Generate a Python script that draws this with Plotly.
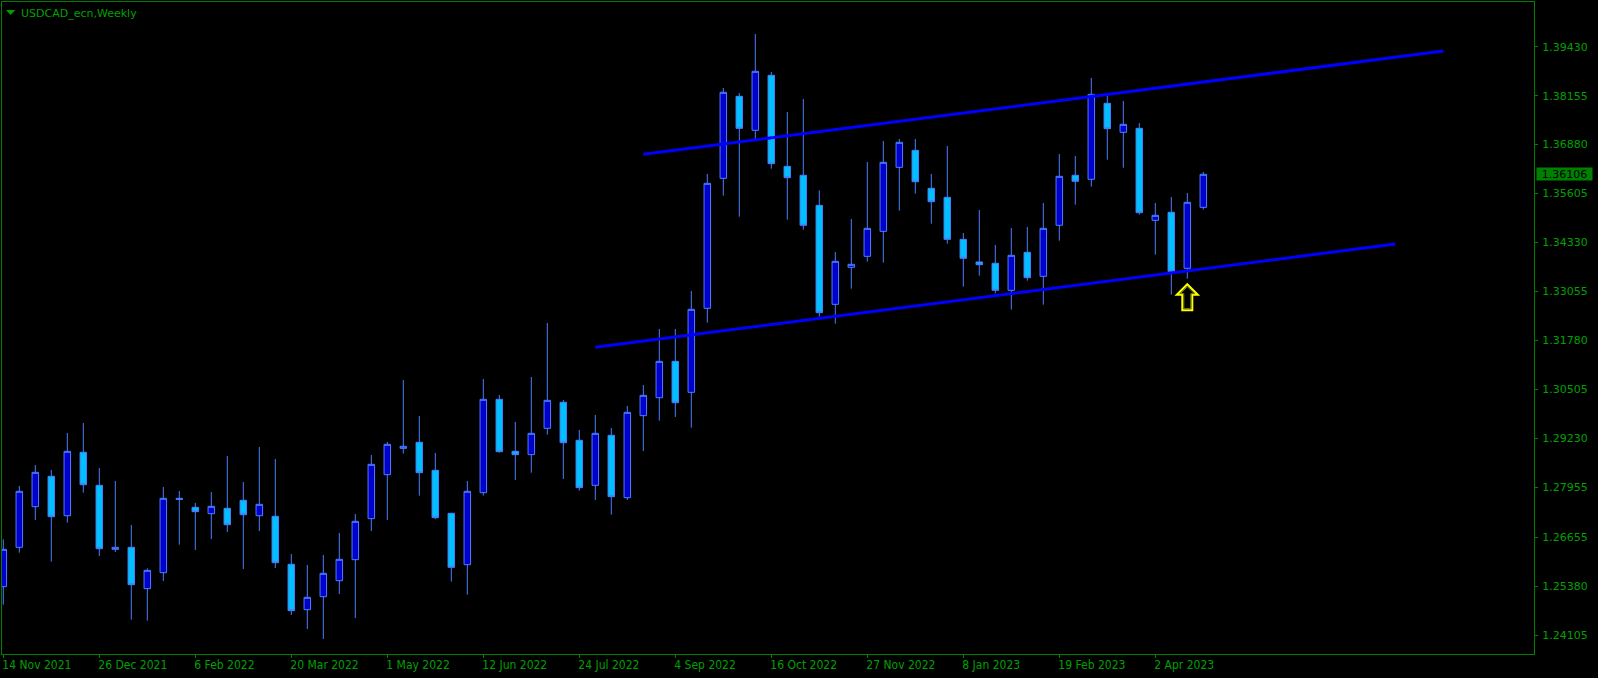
import plotly.graph_objects as go

# ---------------- data ----------------
BAR = list(range(76))  # weekly bars, bar 0 = 14 Nov 2021

OPEN = [1.25367, 1.26391, 1.27450, 1.28240, 1.27216, 1.28865, 1.28006, 1.26339, 1.26391, 1.25315,
        1.25731, 1.27667, 1.27433, 1.27268, 1.27407, 1.27615, 1.27216, 1.27198, 1.25948, 1.24768,
        1.25106, 1.25523, 1.26070, 1.27138, 1.28284, 1.28969, 1.29126, 1.28397, 1.27277, 1.25940,
        1.27815, 1.30246, 1.28891, 1.28805, 1.29490, 1.30168, 1.29178, 1.28006, 1.29308, 1.27685,
        1.29820, 1.30289, 1.31235, 1.30428, 1.32616, 1.36002, 1.38137, 1.37252, 1.38684, 1.36314,
        1.36080, 1.35298, 1.32720, 1.33684, 1.33970, 1.34621, 1.36288, 1.36731, 1.35741, 1.35507,
        1.34413, 1.33823, 1.33788, 1.33085, 1.34074, 1.33449, 1.34778, 1.36080, 1.35976, 1.37955,
        1.37200, 1.37304, 1.34908, 1.35116, 1.33658, 1.35246]
HIGH = [1.26599, 1.27988, 1.28535, 1.28405, 1.29369, 1.29629, 1.28457, 1.28119, 1.26973, 1.25844,
        1.27962, 1.27858, 1.27546, 1.27832, 1.28770, 1.28093, 1.29004, 1.28692, 1.26217, 1.25931,
        1.26191, 1.26764, 1.27259, 1.28796, 1.29134, 1.30749, 1.29812, 1.28848, 1.27290, 1.28119,
        1.30775, 1.30359, 1.29655, 1.30827, 1.32234, 1.30228, 1.29447, 1.29838, 1.29499, 1.30072,
        1.30619, 1.32078, 1.32078, 1.33067, 1.36115, 1.38354, 1.38224, 1.39761, 1.38771, 1.37729,
        1.38068, 1.35689, 1.34083, 1.34942, 1.36427, 1.36974, 1.37026, 1.37026, 1.36115, 1.36844,
        1.34578, 1.35177, 1.34265, 1.34708, 1.34734, 1.35359, 1.36635, 1.36583, 1.38615, 1.38146,
        1.38016, 1.37443, 1.35359, 1.35515, 1.35620, 1.36167]
LOW = [1.24898, 1.26252, 1.27103, 1.26018, 1.27033, 1.27815, 1.26165, 1.26270, 1.24507, 1.24481,
       1.25514, 1.26460, 1.26322, 1.26608, 1.26790, 1.25827, 1.26816, 1.25853, 1.24629, 1.24264,
       1.24004, 1.25176, 1.24551, 1.26816, 1.27103, 1.28831, 1.27737, 1.27129, 1.25497, 1.25158,
       1.27737, 1.28857, 1.28145, 1.28336, 1.29325, 1.28171, 1.27867, 1.27624, 1.27242, 1.27624,
       1.28900, 1.29690, 1.29786, 1.29508, 1.32242, 1.35550, 1.35003, 1.37026, 1.36253, 1.34925,
       1.34665, 1.32399, 1.32216, 1.33128, 1.33831, 1.33805, 1.35160, 1.35602, 1.34821, 1.34300,
       1.33180, 1.33467, 1.33006, 1.32581, 1.33336, 1.32711, 1.34378, 1.35316, 1.35785, 1.36488,
       1.36279, 1.35055, 1.34014, 1.32972, 1.33388, 1.35186]
CLOSE = [1.26339, 1.27850, 1.28344, 1.27190, 1.28891, 1.28023, 1.26356, 1.26391, 1.25419, 1.25792,
         1.27667, 1.27641, 1.27320, 1.27459, 1.26981, 1.27242, 1.27511, 1.25992, 1.24742, 1.25089,
         1.25714, 1.26079, 1.27068, 1.28553, 1.29074, 1.29022, 1.28336, 1.27164, 1.25870, 1.27850,
         1.30246, 1.28883, 1.28805, 1.29360, 1.30220, 1.29117, 1.27945, 1.29360, 1.27711, 1.29907,
         1.30350, 1.31235, 1.30159, 1.32590, 1.35871, 1.38242, 1.37304, 1.38788, 1.36384, 1.36019,
         1.34778, 1.32503, 1.33840, 1.33762, 1.34699, 1.36418, 1.36939, 1.35915, 1.35394, 1.34413,
         1.33918, 1.33753, 1.33085, 1.33996, 1.33415, 1.34699, 1.36054, 1.35924, 1.38189, 1.37295,
         1.37408, 1.35107, 1.35038, 1.33579, 1.35377, 1.36106]

DATE_TICK_POS = [0, 6, 12, 18, 24, 30, 36, 42, 48, 54, 60, 66, 72]
DATE_TICK_TEXT = ["14 Nov 2021", "26 Dec 2021", "6 Feb 2022", "20 Mar 2022", "1 May 2022",
                  "12 Jun 2022", "24 Jul 2022", "4 Sep 2022", "16 Oct 2022", "27 Nov 2022",
                  "8 Jan 2023", "19 Feb 2023", "2 Apr 2023"]
PRICE_TICKS = [1.39430, 1.38155, 1.36880, 1.35605, 1.34330, 1.33055, 1.31780,
               1.30505, 1.29230, 1.27955, 1.26655, 1.25380, 1.24105]

UPPER_X = [40, 90]
UPPER_Y = [1.36628, 1.39318]
LOWER_X = [37, 87]
LOWER_Y = [1.31601, 1.34291]

ARROW_BAR = 74
LAST_PRICE = 1.36106
TITLE = "USDCAD_ecn,Weekly"

# ---------------- style ----------------
W, H = 1598, 678
ML, MR, MT, MB = 2, 64, 2, 24
X_RANGE = [-0.08125, 95.66875]
Y_RANGE = [1.236128, 1.405942]
GREEN_LINE = "#008000"
GREEN_TEXT = "#00A000"
OUTLINE = "#4A7DFF"
BULL_FILL = "#0000CD"
BEAR_FILL = "#00BFFF"
TREND = "#0000FF"
PRICE_FONT = dict(family="DejaVu Sans, Verdana, sans-serif", size=11, color=GREEN_TEXT)
DATE_FONT = dict(family="DejaVu Sans Condensed, Liberation Sans Narrow, DejaVu Sans, sans-serif",
                 size=12, color=GREEN_TEXT)
ARROW_OUTER = "M0,-5.5 L10.5,-16 L5,-16 L5,-31.5 L-5,-31.5 L-5,-16 L-10.5,-16 Z"
ARROW_INNER = "M0,-8 L7,-15 L3.5,-15 L3.5,-30 L-3.5,-30 L-3.5,-15 L-7,-15 Z"
TITLE_TRI = "M4,-8 L13.3,-8 L8.65,-13 Z"

fig = go.Figure()
fig.add_trace(go.Candlestick(
    x=BAR, open=OPEN, high=HIGH, low=LOW, close=CLOSE,
    increasing=dict(fillcolor=BULL_FILL, line=dict(color=OUTLINE, width=1)),
    decreasing=dict(fillcolor=BEAR_FILL, line=dict(color=OUTLINE, width=1)),
    whiskerwidth=0, hoverinfo="skip", showlegend=False))
for xs, ys in ((UPPER_X, UPPER_Y), (LOWER_X, LOWER_Y)):
    fig.add_trace(go.Scatter(x=xs, y=ys, mode="lines", line=dict(color=TREND, width=3),
                             hoverinfo="skip", showlegend=False))

# signal arrow under the bar
fig.add_shape(type="path", xref="x", yref="y", xsizemode="pixel", ysizemode="pixel",
              xanchor=ARROW_BAR, yanchor=LOW[ARROW_BAR], path=ARROW_OUTER,
              line=dict(color="#FFFF00", width=2), fillcolor="rgba(0,0,0,0)")
fig.add_shape(type="path", xref="x", yref="y", xsizemode="pixel", ysizemode="pixel",
              xanchor=ARROW_BAR, yanchor=LOW[ARROW_BAR], path=ARROW_INNER,
              line=dict(color="#7A8A00", width=1), fillcolor="rgba(0,0,0,0)")
# title triangle
fig.add_shape(type="path", xref="paper", yref="paper", xsizemode="pixel", ysizemode="pixel",
              xanchor=0, yanchor=1, path=TITLE_TRI, line=dict(width=0), fillcolor=GREEN_TEXT)

fig.add_annotation(x=0, y=1, xref="paper", yref="paper", xanchor="left", yanchor="top",
                   xshift=17, yshift=-3, text=TITLE, showarrow=False,
                   font=dict(family="DejaVu Sans, Verdana, sans-serif", size=11, color=GREEN_TEXT))
fig.add_annotation(x=1, y=LAST_PRICE, xref="paper", yref="y", xanchor="left", yanchor="middle",
                   xshift=2, text=f"{LAST_PRICE:.5f}", showarrow=False, bgcolor=GREEN_LINE,
                   width=55, height=12, borderpad=0,
                   font=dict(family="DejaVu Sans, Verdana, sans-serif", size=11, color="#000000"))

fig.update_layout(
    width=W, height=H, margin=dict(l=ML, r=MR, t=MT, b=MB, autoexpand=False),
    paper_bgcolor="#000000", plot_bgcolor="#000000", showlegend=False,
    hovermode=False, boxgap=0.42, dragmode=False,
    xaxis=dict(range=X_RANGE, rangeslider=dict(visible=False), showgrid=False, zeroline=False,
               showline=True, mirror=True, linecolor=GREEN_LINE, linewidth=1,
               ticks="outside", ticklen=3, tickcolor=GREEN_LINE, tickwidth=1,
               tickvals=DATE_TICK_POS, ticktext=DATE_TICK_TEXT, tickfont=DATE_FONT,
               ticklabelposition="outside right", ticklabelshift=-2, fixedrange=True),
    yaxis=dict(range=Y_RANGE, side="right", showgrid=False, zeroline=False,
               showline=True, mirror=True, linecolor=GREEN_LINE, linewidth=1,
               ticks="outside", ticklen=3, tickcolor=GREEN_LINE, tickwidth=1,
               tickvals=PRICE_TICKS, ticktext=[f"{v:.5f}" for v in PRICE_TICKS],
               tickfont=PRICE_FONT, ticklabelstandoff=2, fixedrange=True),
)

fig.write_html("out.html", config={"displayModeBar": False, "staticPlot": True},
               post_script="document.body.style.margin='0';")
